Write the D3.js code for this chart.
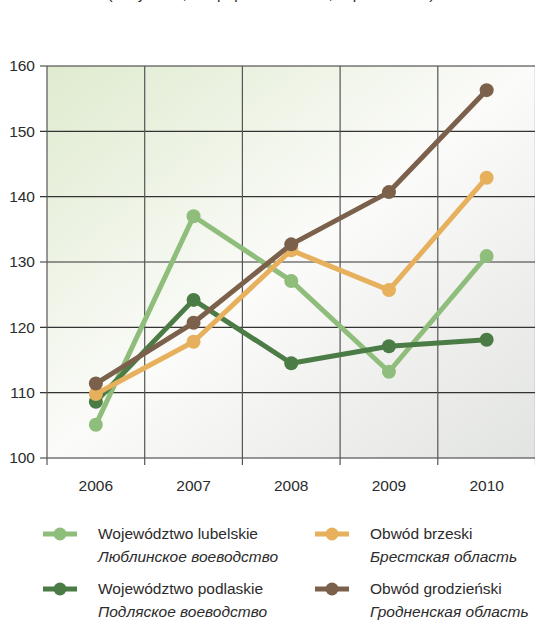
<!DOCTYPE html>
<html><head><meta charset="utf-8">
<script src="https://cdn.jsdelivr.net/npm/d3@7"></script>
<style>body{margin:0;background:#fff}svg{display:block}text{font-family:"Liberation Sans",Arial,sans-serif;fill:#2b2b2b}</style>
</head><body><svg id="c" width="535" height="621"></svg>
<script>
const years = ["2006","2007","2008","2009","2010"];
const yTicks = [100,110,120,130,140,150,160];
const lubelskie = [105.1, 137.0, 127.1, 113.2, 130.9];
const podlaskie = [108.6, 124.2, 114.5, 117.1, 118.1];
const brzeski = [109.8, 117.8, 131.8, 125.7, 142.9];
const grodzienski = [111.4, 120.7, 132.7, 140.7, 156.3];
const seriesNames = ["Województwo lubelskie","Województwo podlaskie","Obwód brzeski","Obwód grodzieński"];
const seriesNamesRu = ["Люблинское воеводство","Подляское воеводство","Брестская область","Гродненская область"];
const seriesColors = ["#8fbd7b","#4b7c45","#e6b05c","#7b604b"];
const seriesData = [lubelskie, podlaskie, brzeski, grodzienski];
const title = "(ceny stałe; rok poprzedni = 100, w procentach)";

const svg = d3.select("#c");
const L=47,R=535.5,T=66,B=458;
const x = d3.scaleBand().domain(years).range([L,R]);
const y = d3.scaleLinear().domain([100,160]).range([B,T]);

const defs = svg.append("defs");
const g = defs.append("linearGradient").attr("id","bg").attr("x1","0").attr("y1","0").attr("x2","1").attr("y2","1");
g.append("stop").attr("offset","0").attr("stop-color","#dfebcf");
g.append("stop").attr("offset","0.5").attr("stop-color","#fbfbf9");
g.append("stop").attr("offset","1").attr("stop-color","#e2e4e2");

svg.append("text").attr("x",271).attr("y",-1).attr("text-anchor","middle").style("font-size","15.5px").text(title);

svg.append("rect").attr("x",L).attr("y",T).attr("width",R-L).attr("height",B-T).attr("fill","url(#bg)");

svg.append("g").selectAll("line").data(yTicks).join("line")
  .attr("x1",L-7).attr("x2",R).attr("y1",d=>y(d)).attr("y2",d=>y(d))
  .attr("stroke","#333").attr("stroke-width",1.2);
const vx = years.map(d=>x(d)).concat([R]);
svg.append("g").selectAll("line").data(vx).join("line")
  .attr("x1",d=>d).attr("x2",d=>d).attr("y1",T).attr("y2",B+7)
  .attr("stroke","#555").attr("stroke-width",1.2);

svg.append("g").selectAll("text").data(yTicks).join("text")
  .attr("x",35).attr("y",d=>y(d)).attr("dy","0.35em").attr("text-anchor","end")
  .style("font-size","15.5px").text(d=>d);
svg.append("g").selectAll("text").data(years).join("text")
  .attr("x",d=>x(d)+x.bandwidth()/2).attr("y",491).attr("text-anchor","middle")
  .style("font-size","15.5px").text(d=>d);

const line = d3.line().x((d,i)=>x(years[i])+x.bandwidth()/2).y(d=>y(d));
seriesData.forEach((s,k)=>{
  const gg = svg.append("g");
  gg.append("path").datum(s).attr("d",line).attr("fill","none").attr("stroke",seriesColors[k]).attr("stroke-width",5).attr("stroke-linejoin","round");
  gg.selectAll("circle").data(s).join("circle")
    .attr("cx",(d,i)=>x(years[i])+x.bandwidth()/2).attr("cy",d=>y(d)).attr("r",7).attr("fill",seriesColors[k]);
});

const lx=[43,315], ly=[534,589];
seriesNames.forEach((n,k)=>{
  const cx = lx[Math.floor(k/2)], cy = ly[k%2];
  const lg = svg.append("g");
  lg.append("line").attr("x1",cx).attr("x2",cx+34).attr("y1",cy).attr("y2",cy).attr("stroke",seriesColors[k]).attr("stroke-width",5);
  lg.append("circle").attr("cx",cx+17).attr("cy",cy).attr("r",6.5).attr("fill",seriesColors[k]);
  lg.append("text").attr("x",cx+55).attr("y",cy).attr("dy","0.35em").style("font-size","15.5px").text(n);
  lg.append("text").attr("x",cx+55).attr("y",cy+23).attr("dy","0.35em").style("font-size","15.5px").style("font-style","italic").text(seriesNamesRu[k]);
});
</script></body></html>
